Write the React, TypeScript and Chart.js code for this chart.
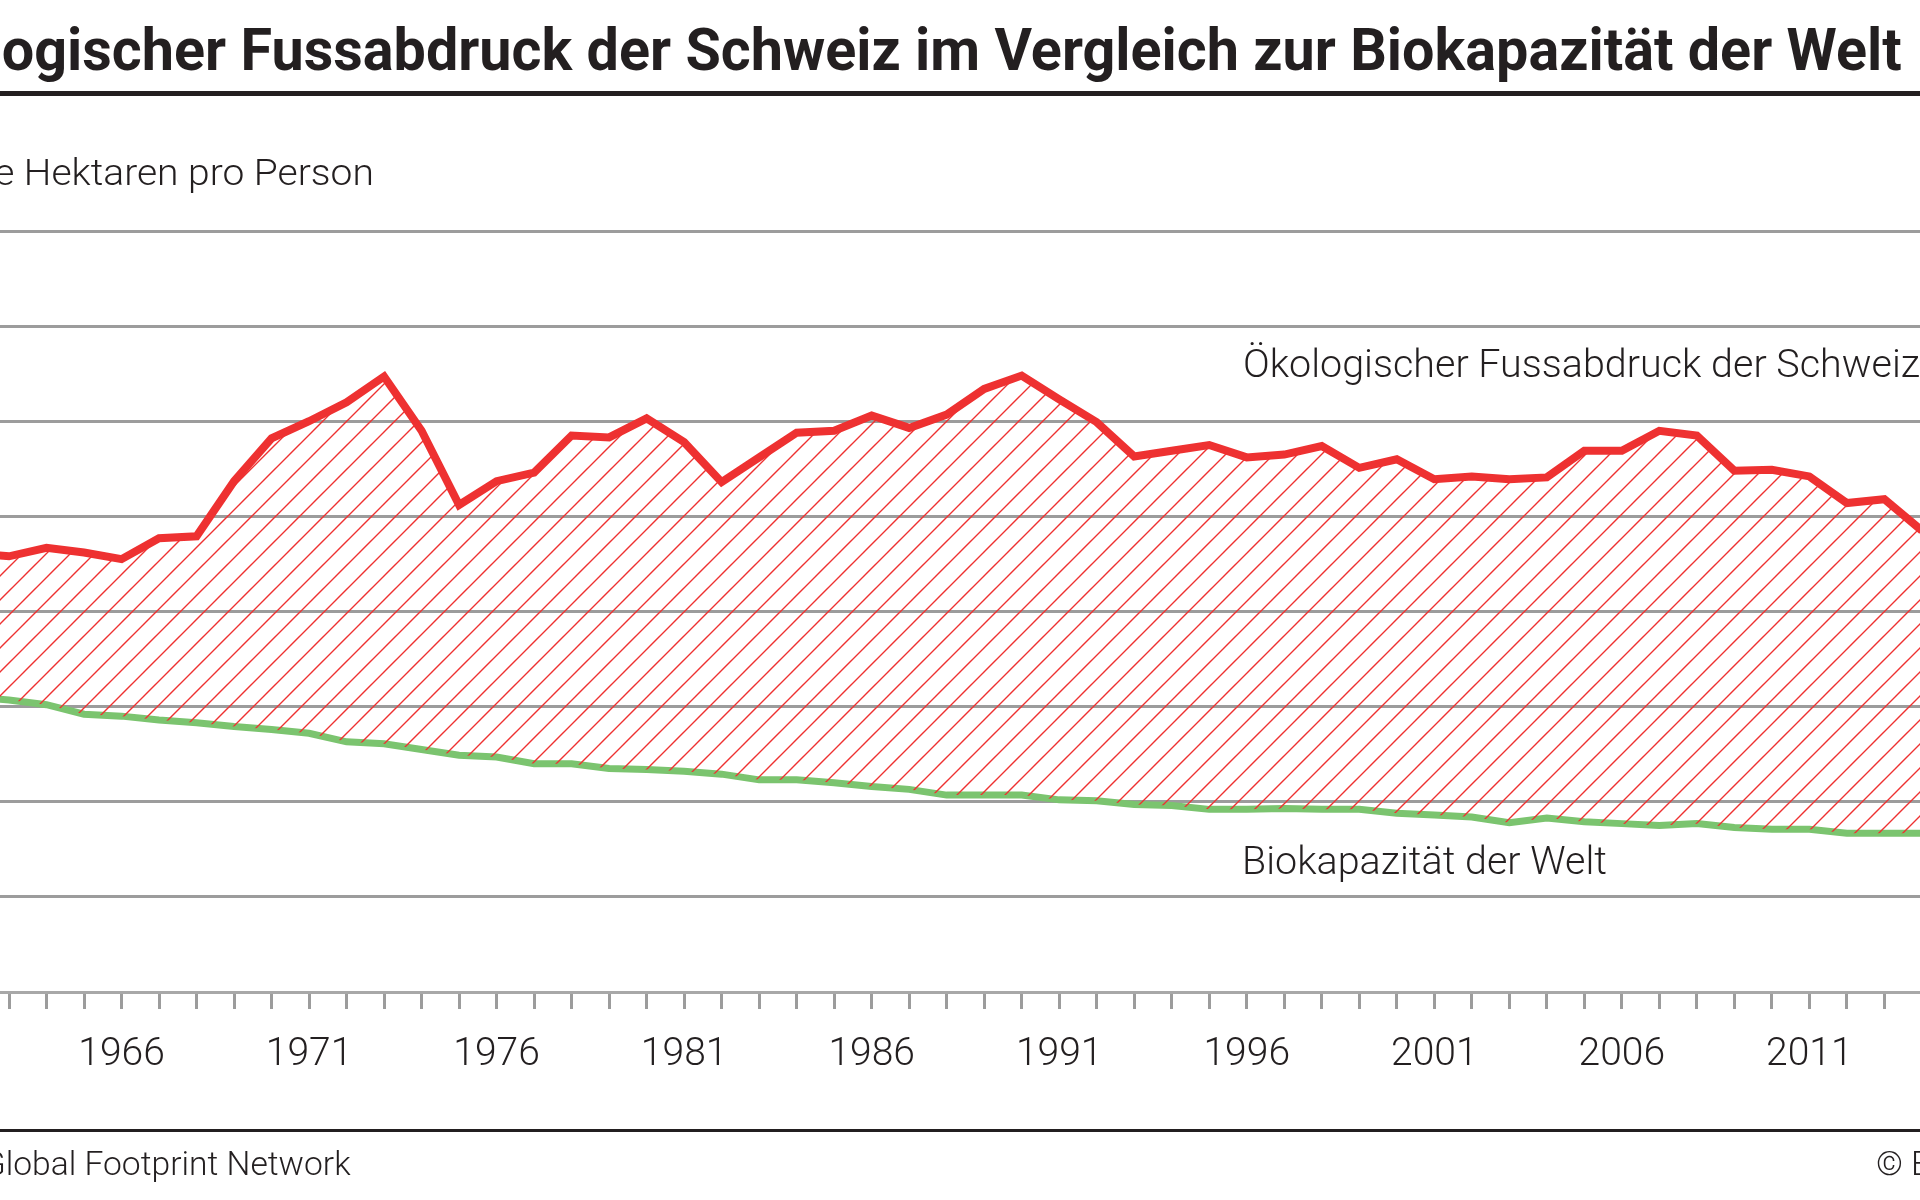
import { useEffect, useMemo, useRef } from "react";
import { Chart, registerables } from "chart.js";

Chart.register(...registerables);

// Jahre, globale Hektaren pro Person
const years = [
  1961, 1962, 1963, 1964, 1965, 1966, 1967, 1968, 1969, 1970,
  1971, 1972, 1973, 1974, 1975, 1976, 1977, 1978, 1979, 1980,
  1981, 1982, 1983, 1984, 1985, 1986, 1987, 1988, 1989, 1990,
  1991, 1992, 1993, 1994, 1995, 1996, 1997, 1998, 1999, 2000,
  2001, 2002, 2003, 2004, 2005, 2006, 2007, 2008, 2009, 2010,
  2011, 2012, 2013, 2014,
];
const footprintCH = [
  4.48, 4.62, 4.58, 4.67, 4.62, 4.55, 4.77, 4.79, 5.37, 5.82,
  6.0, 6.2, 6.47, 5.9, 5.12, 5.37, 5.46, 5.85, 5.83, 6.03,
  5.78, 5.36, 5.62, 5.88, 5.9, 6.06, 5.93, 6.07, 6.34, 6.48,
  6.23, 5.99, 5.63, 5.69, 5.75, 5.62, 5.65, 5.74, 5.51, 5.6,
  5.39, 5.42, 5.39, 5.41, 5.69, 5.69, 5.9, 5.85, 5.48, 5.49,
  5.42, 5.14, 5.18, 4.85,
];
const biocapacityWorld = [
  3.15, 3.1, 3.07, 3.02, 2.92, 2.9, 2.86, 2.83, 2.79, 2.76,
  2.72, 2.63, 2.61, 2.55, 2.49, 2.47, 2.4, 2.4, 2.35, 2.34,
  2.32, 2.29, 2.23, 2.23, 2.2, 2.16, 2.13, 2.07, 2.07, 2.07,
  2.02, 2.01, 1.97, 1.96, 1.92, 1.92, 1.93, 1.92, 1.92, 1.88,
  1.86, 1.84, 1.78, 1.83, 1.79, 1.77, 1.75, 1.77, 1.73, 1.71,
  1.71, 1.67, 1.67, 1.67,
];
const labeledYears = [1966, 1971, 1976, 1981, 1986, 1991, 1996, 2001, 2006, 2011];

const RED = "#ee3131";
const GREEN = "#7bc46f";
const GRID = "#9c9c9c";
const TEXT = "#231f20";

function textWidth(text: string, font: string) {
  const ctx = document.createElement("canvas").getContext("2d");
  if (!ctx) return 1;
  ctx.font = font;
  return ctx.measureText(text).width;
}

function makeHatch(ctx: CanvasRenderingContext2D) {
  const size = 24;
  const tile = document.createElement("canvas");
  tile.width = size;
  tile.height = size;
  const t = tile.getContext("2d")!;
  t.strokeStyle = RED;
  t.lineWidth = 1.4;
  t.beginPath();
  t.moveTo(-2, size + 2);
  t.lineTo(size + 2, -2);
  t.moveTo(-2, 2);
  t.lineTo(2, -2);
  t.moveTo(size - 2, size + 2);
  t.lineTo(size + 2, size - 2);
  t.stroke();
  return ctx.createPattern(tile, "repeat") ?? RED;
}

type LabelProps = {
  text: string;
  x: number;
  baseline: number;
  size: number;
  weight: number;
  anchor: "left" | "right";
  scale?: number;
};

function Label({ text, x, baseline, size, weight, anchor, scale = 1 }: LabelProps) {
  return (
    <div
      style={{
        position: "absolute",
        top: baseline - 0.842 * size,
        left: anchor === "left" ? x : undefined,
        right: anchor === "right" ? 1920 - x : undefined,
        fontFamily: "Roboto, sans-serif",
        fontWeight: weight,
        fontSize: size,
        lineHeight: `${size}px`,
        color: TEXT,
        whiteSpace: "nowrap",
        transform: `scaleX(${scale})`,
        transformOrigin: anchor,
      }}
    >
      {text}
    </div>
  );
}

function FootprintChart() {
  const chartRef = useRef<HTMLCanvasElement | null>(null);

  useEffect(() => {
    const ctx = chartRef.current?.getContext("2d");
    if (!ctx) return;

    const chart = new Chart(ctx, {
      type: "line",
      data: {
        datasets: [
          {
            label: "Ökologischer Fussabdruck der Schweiz",
            data: years.map((y, i) => ({ x: y, y: footprintCH[i] })),
            borderColor: RED,
            borderWidth: 8,
            borderJoinStyle: "miter",
            backgroundColor: makeHatch(ctx),
            fill: { target: 1 },
            pointRadius: 0,
            tension: 0,
          },
          {
            label: "Biokapazität der Welt",
            data: years.map((y, i) => ({ x: y, y: biocapacityWorld[i] })),
            borderColor: GREEN,
            borderWidth: 7,
            borderJoinStyle: "miter",
            fill: false,
            pointRadius: 0,
            tension: 0,
          },
        ],
      },
      options: {
        animation: false,
        responsive: true,
        maintainAspectRatio: false,
        layout: { padding: { top: 231, left: 0, right: 0, bottom: 0 } },
        plugins: {
          legend: { display: false },
          tooltip: { enabled: false },
        },
        scales: {
          x: {
            type: "linear",
            min: 1962.76,
            max: 2013.95,
            afterFit: (s) => {
              // the plot runs to both edges of the picture
              s.height = 208;
              s.paddingLeft = 0;
              s.paddingRight = 0;
            },
            grid: {
              drawOnChartArea: false,
              drawTicks: true,
              tickLength: 17,
              color: GRID,
              lineWidth: 3,
            },
            border: { display: true, color: "#a8a8a8", width: 3 },
            ticks: {
              stepSize: 1,
              maxTicksLimit: 200,
              includeBounds: false,
              autoSkip: false,
              maxRotation: 0,
              padding: 23,
              color: TEXT,
              font: { family: "Roboto", size: 39, weight: 300 },
              callback: (v) => (labeledYears.includes(Number(v)) ? String(v) : ""),
            },
          },
          y: {
            min: 0,
            max: 8,
            afterFit: (s) => {
              s.width = 0;
            },
            grid: { color: GRID, lineWidth: 3, drawTicks: false },
            border: { display: false },
            ticks: { display: false, stepSize: 1 },
          },
        },
      },
    });
    return () => chart.destroy();
  }, []);

  return (
    <div style={{ position: "absolute", left: 0, top: 0, width: 1920, height: 1200 }}>
      <canvas ref={chartRef}></canvas>
    </div>
  );
}

export default function App() {
  const scales = useMemo(() => {
    const title = 1900 / textWidth("ogischer Fussabdruck der Schweiz im Vergleich zur Biokapazität der Welt", "700 59px Roboto");
    const sub = 350 / textWidth("Hektaren pro Person", "300 36px Roboto");
    const note = 365 / textWidth("Biokapazität der Welt", "300 38px Roboto");
    const foot = 345 / textWidth("lobal Footprint Network", "300 33px Roboto");
    return { title, sub, note, foot };
  }, []);

  return (
    <div
      style={{
        position: "absolute",
        left: 0,
        top: 0,
        width: 1920,
        height: 1200,
        overflow: "hidden",
        background: "#fff",
      }}
    >
      <FootprintChart />
      <Label
        text="Ökologischer Fussabdruck der Schweiz im Vergleich zur Biokapazität der Welt"
        x={1902}
        baseline={70}
        size={59}
        weight={700}
        anchor="right"
        scale={scales.title}
      />
      <div style={{ position: "absolute", left: 0, top: 91, width: 1920, height: 5, background: TEXT }} />
      <Label text="Globale Hektaren pro Person" x={374} baseline={185} size={36} weight={300} anchor="right" scale={scales.sub} />
      <Label text="Ökologischer Fussabdruck der Schweiz" x={1243} baseline={377} size={38} weight={300} anchor="left" scale={scales.note} />
      <Label text="Biokapazität der Welt" x={1242} baseline={874} size={38} weight={300} anchor="left" scale={scales.note} />
      <div style={{ position: "absolute", left: 0, top: 1129, width: 1920, height: 3, background: TEXT }} />
      <Label text="Quelle: Global Footprint Network" x={351} baseline={1175} size={33} weight={300} anchor="right" scale={scales.foot} />
      <Label text="© BFS" x={1876} baseline={1175} size={33} weight={300} anchor="left" scale={scales.foot} />
    </div>
  );
}
